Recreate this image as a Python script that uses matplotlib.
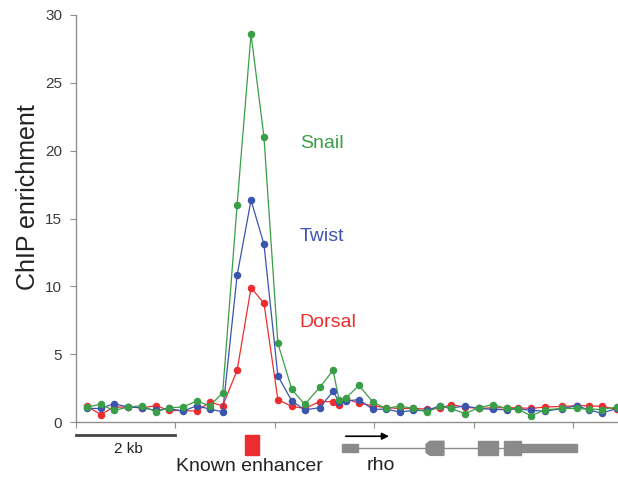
import numpy as np
from matplotlib import pyplot as plt
from matplotlib.patches import Rectangle, Polygon

# Probe positions (kb) and ChIP enrichment per factor
pos_kb = [0.22, 0.50, 0.76, 1.05, 1.33, 1.61, 1.87, 2.15, 2.43, 2.69,
          2.95, 3.24, 3.52, 3.78, 4.06, 4.34, 4.60, 4.90, 5.17, 5.29,
          5.43, 5.69, 5.97, 6.23, 6.51, 6.77, 7.06, 7.32, 7.54, 7.82,
          8.10, 8.38, 8.66, 8.88, 9.15, 9.43, 9.77, 10.07, 10.31, 10.57,
          10.87]

snail = [1.1, 1.3, 0.85, 1.1, 1.2, 0.75, 1.05, 1.1, 1.55, 1.2,
         2.15, 16.0, 28.6, 21.0, 5.8, 2.4, 1.3, 2.55, 3.8, 1.65,
         1.77, 2.7, 1.47, 1.0, 1.18, 1.0, 0.74, 1.15, 1.0, 0.62,
         1.05, 1.28, 1.0, 0.97, 0.45, 0.9, 1.0, 1.0, 0.95, 0.92,
         1.1]
twist = [1.0, 1.0, 1.35, 1.1, 1.05, 0.85, 1.0, 0.8, 1.2, 0.95,
         0.75, 10.8, 16.35, 13.1, 3.4, 1.55, 0.9, 1.05, 2.26, 1.5,
         1.55, 1.65, 0.93, 0.95, 0.74, 0.85, 0.85, 1.2, 1.03, 1.18,
         1.0, 0.93, 0.9, 0.97, 0.86, 0.8, 0.98, 1.2, 0.9, 0.65,
         1.0]
dorsal = [1.15, 0.55, 1.1, 1.1, 1.05, 1.2, 0.85, 0.85, 0.8, 1.45,
          1.2, 3.8, 9.9, 8.75, 1.65, 1.15, 1.0, 1.5, 1.5, 1.23,
          1.7, 1.4, 1.2, 1.05, 1.0, 1.0, 0.95, 1.0, 1.28, 1.1,
          1.0, 1.05, 1.05, 1.05, 1.0, 1.1, 1.15, 1.2, 1.2, 1.15,
          0.95]

names = ["Snail", "Twist", "Dorsal"]
colors = ["#3a9e48", "#3b54ad", "#ec2d30"]

plt.rcParams['font.family'] = ['Liberation Sans', 'DejaVu Sans']

fig = plt.figure(figsize=(6.18, 4.78), dpi=100)
ax = fig.add_axes([76 / 618, 56 / 478, 542 / 618, 407 / 478])

# draw red first, green on top
for vals, col in [(dorsal, colors[2]), (twist, colors[1]), (snail, colors[0])]:
    ax.plot(pos_kb, vals, color=col, lw=0.9, marker='o', ms=4.4,
            mec=col, mfc=col, clip_on=False, zorder=3)

ax.set_xlim(0, 10.9)
ax.set_ylim(0, 30)
ax.set_yticks([0, 5, 10, 15, 20, 25, 30])
ax.set_xticks([0, 2, 4, 6, 8, 10])
ax.set_xticklabels([])
for s in ['top', 'right']:
    ax.spines[s].set_visible(False)
for s in ['left', 'bottom']:
    ax.spines[s].set_color('#8f8f8f')
    ax.spines[s].set_linewidth(1.0)
ax.tick_params(axis='y', direction='out', length=4, color='#8f8f8f',
               labelsize=11, labelcolor='#3a3a3a', pad=6)
ax.tick_params(axis='x', direction='out', length=4, color='#8f8f8f')
ax.set_ylabel('ChIP enrichment', fontsize=18, color='#222222')
ax.yaxis.set_label_coords(-0.066, 0.553)

# series labels
ax.text(4.5, 20.55, names[0], color=colors[0], fontsize=14, va='center')
ax.text(4.5, 13.7, names[1], color=colors[1], fontsize=14, va='center')
ax.text(4.5, 7.35, names[2], color=colors[2], fontsize=14, va='center')

# annotation track below the axis
ax.plot([0, 2], [-0.98, -0.98], color='#444444', lw=2, clip_on=False)
ax.text(1.05, -2.0, '2 kb', fontsize=11, color='#222222', ha='center', va='center')

ax.add_patch(Rectangle((3.40, -2.46), 0.28, 1.48, color='#ec2d30', clip_on=False))
ax.text(3.48, -3.3, 'Known enhancer', fontsize=14, color='#222222',
        ha='center', va='center')

ax.annotate('', xy=(6.35, -1.05), xytext=(5.37, -1.05),
            arrowprops=dict(arrowstyle='-|>', color='black', lw=1.2,
                            mutation_scale=10), annotation_clip=False)

gene_col = '#8a8a8a'
ax.plot([5.67, 8.60], [-1.94, -1.94], color=gene_col, lw=1, clip_on=False)
ax.add_patch(Rectangle((5.35, -2.24), 0.32, 0.60, color=gene_col, clip_on=False))
ax.add_patch(Polygon([(7.04, -1.64), (7.12, -1.42), (7.40, -1.42), (7.40, -2.46),
                      (7.12, -2.46), (7.04, -2.24)], color=gene_col, clip_on=False))
ax.add_patch(Rectangle((8.08, -2.46), 0.40, 1.04, color=gene_col, clip_on=False))
ax.add_patch(Rectangle((8.60, -2.46), 0.34, 1.04, color=gene_col, clip_on=False))
ax.add_patch(Rectangle((8.94, -2.24), 1.13, 0.60, color=gene_col, clip_on=False))
ax.text(6.13, -3.2, 'rho', fontsize=14, color='#222222', ha='center', va='center')

plt.savefig('out.png', dpi=100)
plt.close()
